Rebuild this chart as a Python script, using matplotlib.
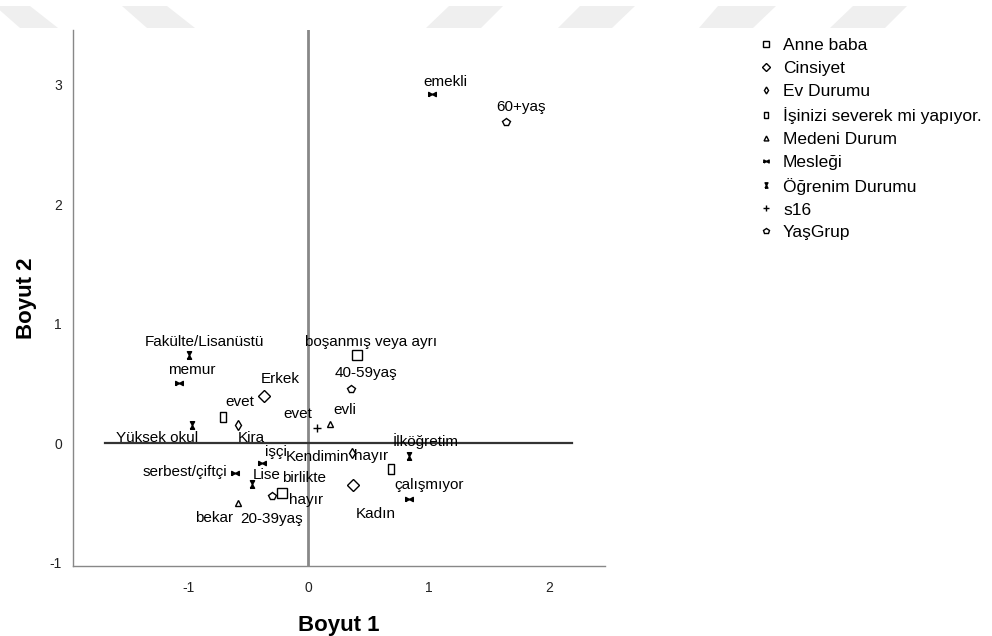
import matplotlib.pyplot as plt
import numpy as np
from matplotlib.patches import Polygon
from matplotlib.path import Path

plt.rcParams['font.family'] = ['Liberation Sans', 'DejaVu Sans']
plt.rcParams['axes.unicode_minus'] = False

# category coordinates on the two dimensions, per variable
anne_cats = ["boşanmış veya ayrı", "birlikte"]
anne_x = [0.40, -0.22]
anne_y = [0.74, -0.42]

cins_cats = ["Erkek", "Kadın"]
cins_x = [-0.37, 0.37]
cins_y = [0.39, -0.35]

ev_cats = ["Kira", "Kendimin"]
ev_x = [-0.59, 0.36]
ev_y = [0.15, -0.08]

is_cats = ["evet", "hayır"]
is_x = [-0.71, 0.69]
is_y = [0.22, -0.22]

med_cats = ["evli", "bekar"]
med_x = [0.18, -0.59]
med_y = [0.16, -0.50]

mes_cats = ["emekli", "memur", "işçi", "serbest/çiftçi", "çalışmıyor"]
mes_x = [1.03, -1.08, -0.39, -0.61, 0.84]
mes_y = [2.92, 0.50, -0.17, -0.25, -0.47]

ogr_cats = ["Fakülte/Lisanüstü", "Yüksek okul", "Lise", "İlköğretim"]
ogr_x = [-0.99, -0.97, -0.47, 0.84]
ogr_y = [0.74, 0.15, -0.34, -0.11]

s16_cats = ["evet", "hayır"]
s16_x = [0.07, -0.22]
s16_y = [0.13, -0.42]

yas_cats = ["60+yaş", "40-59yaş", "20-39yaş"]
yas_x = [1.64, 0.35, -0.30]
yas_y = [2.69, 0.45, -0.44]

# custom glyphs
bowtie = Path([(-1, -0.55), (-1, 0.55), (1, -0.55), (1, 0.55), (-1, -0.55)])
hourglass = Path([(-0.55, -1), (0.55, -1), (-0.55, 1), (0.55, 1), (-0.55, -1)])
slim_rect = Path([(-0.32, -0.5), (0.32, -0.5), (0.32, 0.5), (-0.32, 0.5), (-0.32, -0.5)])

groups = [
    ("Anne baba", anne_cats, anne_x, anne_y, dict(marker='s', ms=6.5, mfc='white')),
    ("Cinsiyet", cins_cats, cins_x, cins_y, dict(marker='D', ms=6, mfc='white')),
    ("Ev Durumu", ev_cats, ev_x, ev_y, dict(marker='d', ms=5, mfc='white')),
    ("İşinizi severek mi yapıyor.", is_cats, is_x, is_y, dict(marker=slim_rect, ms=6.5, mfc='white')),
    ("Medeni Durum", med_cats, med_x, med_y, dict(marker='^', ms=5, mfc='white')),
    ("Mesleği", mes_cats, mes_x, mes_y, dict(marker=bowtie, ms=5.5, mfc='black')),
    ("Öğrenim Durumu", ogr_cats, ogr_x, ogr_y, dict(marker=hourglass, ms=5.5, mfc='black')),
    ("s16", s16_cats, s16_x, s16_y, dict(marker='+', ms=6, mfc='black')),
    ("YaşGrup", yas_cats, yas_x, yas_y, dict(marker='p', ms=5.5, mfc='white')),
]

# label offsets in pixels (dx, dy) from each point
offsets = {
    ("Anne baba", "boşanmış veya ayrı"): (15, 13),
    ("Anne baba", "birlikte"): (22, 15),
    ("Cinsiyet", "Erkek"): (16, 17),
    ("Cinsiyet", "Kadın"): (23, -29),
    ("Ev Durumu", "Kira"): (14, -13),
    ("Ev Durumu", "Kendimin"): (-34, -4),
    ("İşinizi severek mi yapıyor.", "evet"): (17, 15),
    ("İşinizi severek mi yapıyor.", "hayır"): (-20, 13),
    ("Medeni Durum", "evli"): (15, 14),
    ("Medeni Durum", "bekar"): (-23, -15),
    ("Mesleği", "emekli"): (13, 12),
    ("Mesleği", "memur"): (13, 13),
    ("Mesleği", "işçi"): (14, 11),
    ("Mesleği", "serbest/çiftçi"): (-50, 1),
    ("Mesleği", "çalışmıyor"): (20, 14),
    ("Öğrenim Durumu", "Fakülte/Lisanüstü"): (15, 13),
    ("Öğrenim Durumu", "Yüksek okul"): (-35, -13),
    ("Öğrenim Durumu", "Lise"): (15, 9),
    ("Öğrenim Durumu", "İlköğretim"): (16, 15),
    ("s16", "evet"): (-19, 14),
    ("s16", "hayır"): (24, -7),
    ("YaşGrup", "60+yaş"): (15, 15),
    ("YaşGrup", "40-59yaş"): (15, 16),
    ("YaşGrup", "20-39yaş"): (-1, -23),
}

fig = plt.figure(figsize=(9.92, 6.36), dpi=100)

# faint banner shapes along the top edge
banner = [
    [(-5, 6), (30, 6), (58, 28), (20, 28)],
    [(122, 6), (167, 6), (195, 28), (147, 28)],
    [(449, 6), (503, 6), (481, 28), (426, 28)],
    [(580, 6), (635, 6), (612, 28), (558, 28)],
    [(718, 6), (776, 6), (753, 28), (699, 28)],
    [(853, 6), (907, 6), (885, 28), (830, 28)],
]
for shape in banner:
    pts = [(px / 992, 1 - py / 636) for px, py in shape]
    fig.patches.append(Polygon(pts, closed=True, transform=fig.transFigure,
                               facecolor='#efefef', edgecolor='none', zorder=0))

ax = fig.add_axes([73 / 992, 1 - 566 / 636, (605 - 73) / 992, (566 - 30) / 636])
ax.set_xlim(-1.958, 2.466)
ax.set_ylim(-1.03, 3.46)

ax.axvline(0, color='#888888', lw=2, zorder=1)
ax.plot([-1.69, 2.19], [0, 0], color='#333333', lw=1.6, zorder=1)

for name, cats, xs, ys, style in groups:
    # s16 goes under the others so its hidden point sits below the square
    z = 2 if name == "s16" else 3
    ax.plot(xs, ys, linestyle='none', color='black', mec='black', mew=1,
            label=name, zorder=z, **style)
    for c, x, y in zip(cats, xs, ys):
        dx, dy = offsets[(name, c)]
        ax.annotate(c, (x, y), xytext=(dx, dy), textcoords='offset pixels',
                    ha='center', va='center', fontsize=11, color='black', zorder=4)

for side in ['top', 'right']:
    ax.spines[side].set_visible(False)
for side in ['left', 'bottom']:
    ax.spines[side].set_color('#888888')
    ax.spines[side].set_linewidth(1)

ax.set_xticks([-1, 0, 1, 2])
ax.set_yticks([-1, 0, 1, 2, 3])
ax.tick_params(length=0, labelsize=10, colors='#222222')
ax.tick_params(axis='x', pad=11)
ax.tick_params(axis='y', pad=8)

ax.set_xlabel("Boyut 1", fontsize=16, fontweight='bold', labelpad=14)
ax.set_ylabel("Boyut 2", fontsize=16, fontweight='bold', labelpad=9)

fig.legend(loc='upper left', bbox_to_anchor=(757 / 992, 1 - 38 / 636),
           frameon=False, fontsize=12.5, handlelength=1.0, handletextpad=0.5,
           labelspacing=0.45, borderaxespad=0, borderpad=0, markerscale=0.7)

fig.savefig('out.png', dpi=100)
